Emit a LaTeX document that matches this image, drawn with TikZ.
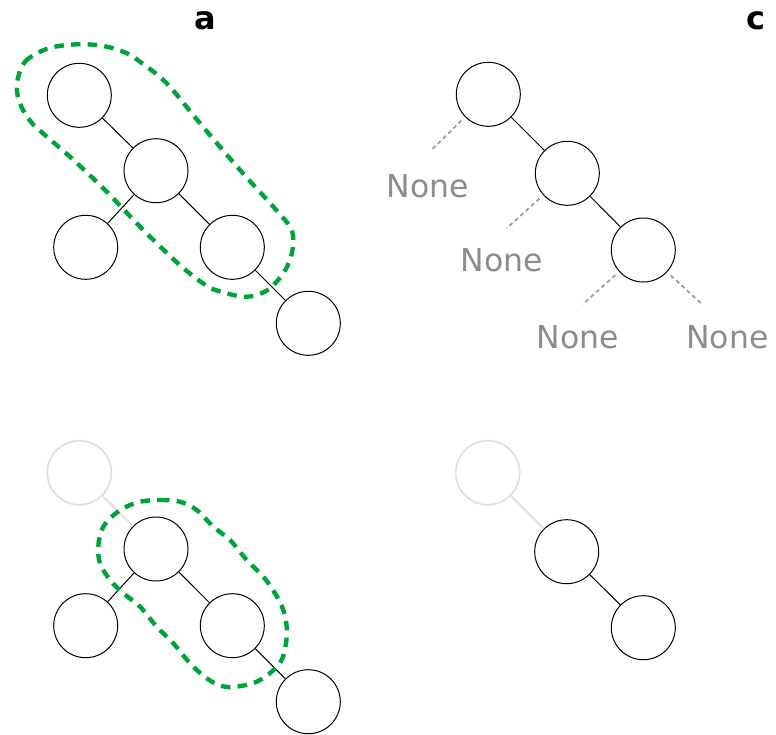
\documentclass[tikz,border=0pt]{standalone}
\usepackage{fontspec}
\newfontfamily\labelfont{DejaVu Sans}
\definecolor{loopgreen}{RGB}{0,163,58}
\definecolor{nonegray}{RGB}{140,140,140}
\definecolor{fadegray}{RGB}{224,224,224}
\tikzset{
  treenode/.style={circle, draw=black, line width=1pt, minimum size=64pt, inner sep=0pt},
  fadednode/.style={circle, draw=fadegray, line width=1.8pt, minimum size=64pt, inner sep=0pt},
  edge/.style={draw=black, line width=1pt},
  fadededge/.style={draw=fadegray, line width=1.8pt},
  noneedge/.style={draw=nonegray!85, line width=1.8pt, dash pattern=on 4pt off 3.3pt, shorten <=5pt},
  nonelabel/.style={text=nonegray, font=\labelfont\fontsize{31.5}{36}\selectfont, inner sep=0pt},
  panellabel/.style={font=\labelfont\bfseries\fontsize{32}{38}\selectfont, inner sep=0pt},
  grouploop/.style={draw=loopgreen, line width=4.4pt, dash pattern=on 9.5pt off 7.2pt}
}
\begin{document}
\begin{tikzpicture}[x=1pt, y=-1pt]
\useasboundingbox (0,0) rectangle (776,734);

% panel labels
\node[panellabel] (la) at (205,20.5) {a};
\node[panellabel] (lc) at (756.3,20.5) {c};

% top-left tree
\node[treenode] (a1) at (79.3,95.3) {};
\node[treenode] (a2) at (156,170.7) {};
\node[treenode] (a3) at (85.7,247.3) {};
\node[treenode] (a4) at (232.3,247.3) {};
\node[treenode] (a5) at (308.3,323.3) {};
\draw[edge] (a1) -- (a2);
\draw[edge] (a2) -- (a3);
\draw[edge] (a2) -- (a4);
\draw[edge] (a4) -- (a5);

\draw[grouploop] plot[smooth cycle, tension=0.55] coordinates {
  (18.3,76.7) (25,61.7) (40,51.7) (55,46.7) (76.7,44.3) (96.7,45)
  (113.3,48.3) (128.3,54) (140,61.7) (166.7,83.3) (200,123.3) (240,170)
  (273.3,206.7) (290,226.7) (293.3,240) (291,256.7) (283.3,273.3)
  (270,288.3) (256.7,295) (243.3,296.7) (226.7,293.3) (208.3,286.7)
  (181.7,266.7) (143.3,230) (106.7,191.7) (71.7,158.3) (46,136)
  (31,122) (21.5,107) (17,92)};

% top-right tree with empty children
\node[treenode] (c1) at (488.3,94.3) {};
\node[treenode] (c2) at (567.3,173.3) {};
\node[treenode] (c3) at (643.3,250) {};
\draw[edge] (c1) -- (c2);
\draw[edge] (c2) -- (c3);

\coordinate (e1) at (430.7,150.7);
\coordinate (e2) at (506.7,228.3);
\coordinate (e3) at (582.7,304.3);
\coordinate (e4) at (701,303.3);
\draw[noneedge] (c1) -- (e1);
\draw[noneedge] (c2) -- (e2);
\draw[noneedge] (c3) -- (e3);
\draw[noneedge] (c3) -- (e4);

\node[nonelabel] (n1) at (428,186) {None};
\node[nonelabel] (n2) at (502,260.5) {None};
\node[nonelabel] (n3) at (578,337.5) {None};
\node[nonelabel] (n4) at (727.5,337.5) {None};

% bottom-left tree, root faded
\node[fadednode] (b1) at (79.3,472.7) {};
\node[treenode] (b2) at (156,549) {};
\node[treenode] (b3) at (85.7,625.7) {};
\node[treenode] (b4) at (232.3,625.7) {};
\node[treenode] (b5) at (308.3,701.7) {};
\draw[fadededge] (b1) -- (b2);
\draw[edge] (b2) -- (b3);
\draw[edge] (b2) -- (b4);
\draw[edge] (b4) -- (b5);

\draw[grouploop] plot[smooth cycle, tension=0.55] coordinates {
  (140,501.7) (160,500) (180,501.7) (196.7,510) (213.3,526.7) (230,540)
  (246.7,560) (263.3,576.7) (275,593.3) (283.3,610) (286.7,626.7)
  (286,643.3) (281.7,660) (271.7,671.7) (256.7,681.7) (236.7,686.7)
  (221.7,686) (206.7,678.3) (190,663.3) (173.3,643.3) (156.7,626.7)
  (140,606.7) (123.3,593.3) (110,580) (100,563.3) (98.3,546.7)
  (101.7,530) (110,518.3) (123.3,508.3)};

% bottom-right tree, root faded
\node[fadednode] (d1) at (487.7,472.7) {};
\node[treenode] (d2) at (566.7,551.7) {};
\node[treenode] (d3) at (643.3,627.7) {};
\draw[fadededge] (d1) -- (d2);
\draw[edge] (d2) -- (d3);
\end{tikzpicture}
\end{document}
